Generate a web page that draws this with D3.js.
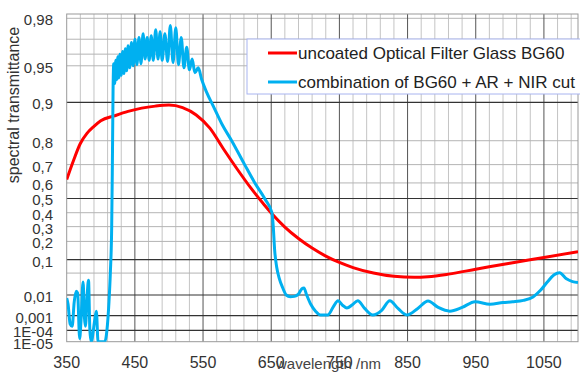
<!DOCTYPE html>
<html>
<head>
<meta charset="utf-8">
<script src="https://cdn.jsdelivr.net/npm/d3@7"></script>
<style>
  body { margin: 0; background: #fff; }
  svg { display: block; font-family: "Liberation Sans", Arial, sans-serif; }
</style>
</head>
<body>
<div class="canvas"></div>
<script>
// tick values on the y axis (diabatic scale) and their labels
const yTicks = [0.98, 0.95, 0.9, 0.8, 0.7, 0.6, 0.5, 0.4, 0.3, 0.2, 0.1, 0.01, 0.001, 1e-4, 1e-5];
const yTickLabels = ["0,98", "0,95", "0,9", "0,8", "0,7", "0,6", "0,5", "0,4", "0,3", "0,2", "0,1", "0,01", "0,001", "1E-04", "1E-05"];
const yGridLight = [0.98, 0.97, 0.96, 0.95, 0.8, 0.7, 0.6, 0.4, 0.3, 0.2, 0.05];
const yGridDark = [0.9, 0.5, 0.1, 0.01, 0.001, 1e-4];
const xTicks = [350, 450, 550, 650, 750, 850, 950, 1050];

// uncoated BG60 : [wavelength nm, transmittance]
const bg60 = [
  [350, 0.62], [360, 0.72], [370, 0.79], [380, 0.825], [390, 0.845], [400, 0.86],
  [420, 0.872], [440, 0.882], [460, 0.889], [480, 0.893], [500, 0.895], [520, 0.89],
  [540, 0.874], [560, 0.84], [580, 0.769], [600, 0.678], [620, 0.569], [640, 0.455],
  [650, 0.398], [670, 0.297], [690, 0.219], [710, 0.16], [730, 0.117], [750, 0.088],
  [770, 0.068], [800, 0.05], [830, 0.041], [860, 0.0385], [880, 0.04], [910, 0.047],
  [950, 0.062], [1000, 0.085], [1050, 0.11], [1100, 0.14]
];

// BG60 + AR + NIR cut
const combo = [
  [350, 0.0075], [352, 0.004], [355, 0.0003], [358, 0.0002], [361, 0.005], [364, 0.014],
  [366, 0.012], [369, 0.00002], [371, 0.0005], [374, 0.028], [376, 0.0008], [377.5, 0.0002],
  [380, 0.01], [382, 0.032], [384, 0.0001], [386, 0.00001], [391, 0.0005], [393.5, 0.0018],
  [396, 0.00001], [406, 0.00001], [409, 0.0001], [412, 0.005], [414, 0.05], [416, 0.3],
  [417, 0.7], [418, 0.92], [419, 0.952], [420.5, 0.93], [422, 0.955], [423.5, 0.935],
  [425, 0.958], [426.5, 0.937], [428, 0.96], [430, 0.94], [432, 0.962], [434, 0.942],
  [436, 0.964], [438, 0.945], [440, 0.966], [442.5, 0.948], [445, 0.968], [447.5, 0.95],
  [450, 0.97], [453, 0.951], [456, 0.971], [459, 0.952], [462, 0.973], [465, 0.956],
  [468, 0.971], [471, 0.955], [474, 0.972], [477, 0.955], [480.5, 0.975], [484, 0.956],
  [487, 0.974], [490, 0.955], [494, 0.973], [498, 0.954], [502, 0.977], [506, 0.953],
  [510, 0.976], [514, 0.951], [518, 0.971], [522, 0.948], [526, 0.965], [530, 0.946],
  [534, 0.956], [538, 0.943], [543, 0.948], [548, 0.935], [555, 0.918], [565, 0.893],
  [578, 0.85], [592, 0.8], [611, 0.7], [626, 0.6], [641, 0.495], [651, 0.40],
  [653, 0.3], [655, 0.15], [658, 0.07], [662, 0.035], [667, 0.018],
  [672, 0.01], [678, 0.0085], [684, 0.0088], [690, 0.011], [695, 0.017], [698, 0.018],
  [702, 0.01], [708, 0.004], [715, 0.0018], [722, 0.0011], [733, 0.0011], [741, 0.003],
  [748, 0.0058], [755, 0.0035], [761, 0.0026], [769, 0.0038], [777, 0.0058], [787, 0.0025],
  [799, 0.0011], [812, 0.002], [824, 0.0058], [836, 0.0025], [849, 0.0011], [865, 0.0025],
  [880, 0.0056], [895, 0.0028], [912, 0.0018], [930, 0.0028], [949, 0.0052], [971, 0.004],
  [990, 0.0048], [1004, 0.0052], [1020, 0.006], [1034, 0.0083], [1045, 0.015], [1055, 0.028],
  [1065, 0.045], [1073, 0.051], [1083, 0.035], [1092, 0.029], [1100, 0.027]
];

const legendLabels = ["uncoated Optical Filter Glass BG60", "combination of BG60 + AR + NIR cut"];
const colors = ["#ff0000", "#00b0f0"];

const width = 580, height = 372;
const plotLeft = 66.7, plotRight = 578, plotTop = 14, plotBottom = 341.7;

// diabatic transform: log(log(1/T))
const diab = t => Math.log10(Math.log10(1 / t));

const x = d3.scaleLinear().domain([350, 1100]).range([plotLeft, plotRight]);
const y = d3.scaleLinear().domain([diab(0.98), diab(1e-5)]).range([18.3, plotBottom]);

const svg = d3.select(".canvas").append("svg")
  .attr("width", width).attr("height", height);

svg.append("clipPath").attr("id", "clip")
  .append("rect").attr("x", plotLeft).attr("y", plotTop)
  .attr("width", plotRight - plotLeft).attr("height", plotBottom - plotTop);

// grid
const grid = svg.append("g");
grid.selectAll(".vminor")
  .data(d3.range(370, 1101, 20).filter(v => !xTicks.includes(v)))
  .enter().append("line")
  .attr("x1", d => x(d)).attr("x2", d => x(d))
  .attr("y1", plotTop).attr("y2", plotBottom)
  .attr("stroke", "#c4c4c4").attr("stroke-width", 1);
grid.selectAll(".hlight")
  .data(yGridLight).enter().append("line")
  .attr("x1", plotLeft).attr("x2", plotRight)
  .attr("y1", d => y(diab(d))).attr("y2", d => y(diab(d)))
  .attr("stroke", "#b4b4b4").attr("stroke-width", 1);
grid.selectAll(".vmajor")
  .data(xTicks.slice(1)).enter().append("line")
  .attr("x1", d => x(d)).attr("x2", d => x(d))
  .attr("y1", plotTop).attr("y2", plotBottom)
  .attr("stroke", "#555").attr("stroke-width", 1);
grid.selectAll(".hdark")
  .data(yGridDark).enter().append("line")
  .attr("x1", plotLeft).attr("x2", plotRight)
  .attr("y1", d => y(diab(d))).attr("y2", d => y(diab(d)))
  .attr("stroke", "#333").attr("stroke-width", 1.2);

svg.append("rect")
  .attr("x", plotLeft).attr("y", plotTop)
  .attr("width", plotRight - plotLeft).attr("height", plotBottom - plotTop)
  .attr("fill", "none").attr("stroke", "#999");

// curves
const line = d3.line()
  .x(d => x(d[0]))
  .y(d => y(diab(Math.max(d[1], 1e-6))))
  .curve(d3.curveMonotoneX);

const curves = svg.append("g").attr("clip-path", "url(#clip)");
[bg60, combo].forEach((data, i) => {
  curves.append("path")
    .datum(data)
    .attr("d", line)
    .attr("fill", "none")
    .attr("stroke", colors[i])
    .attr("stroke-width", 3)
    .attr("stroke-linejoin", "round");
});

// y tick labels
svg.append("g").selectAll("text")
  .data(yTicks).enter().append("text")
  .attr("x", 53)
  .attr("y", d => y(diab(d)) + 7)
  .attr("text-anchor", "end")
  .attr("font-size", 15)
  .attr("fill", "#333")
  .text((d, i) => yTickLabels[i]);

// x tick labels
svg.append("g").selectAll("text")
  .data(xTicks).enter().append("text")
  .attr("x", d => x(d))
  .attr("y", 368)
  .attr("text-anchor", "middle")
  .attr("font-size", 16)
  .attr("fill", "#333")
  .text(d => d);

svg.append("text")
  .attr("x", 276).attr("y", 369)
  .attr("font-size", 15)
  .attr("fill", "#444")
  .text("wavelength /nm");

svg.append("text")
  .attr("transform", "translate(19,105) rotate(-90)")
  .attr("text-anchor", "middle")
  .attr("font-size", 16)
  .attr("fill", "#333")
  .text("spectral transmittance");

// legend
const legend = svg.append("g").attr("id", "legend");
legend.append("rect")
  .attr("x", 247).attr("y", 39)
  .attr("width", 340).attr("height", 55)
  .attr("fill", "#fff").attr("stroke", "#a8b4f0");
legendLabels.forEach((label, i) => {
  const ly = 53 + i * 29;
  legend.append("line")
    .attr("x1", 268).attr("x2", 297)
    .attr("y1", ly).attr("y2", ly)
    .attr("stroke", colors[i]).attr("stroke-width", 3);
  legend.append("text")
    .attr("x", 298).attr("y", ly + 6)
    .attr("font-size", 17)
    .attr("fill", "#222")
    .text(label);
});
</script>
</body>
</html>
